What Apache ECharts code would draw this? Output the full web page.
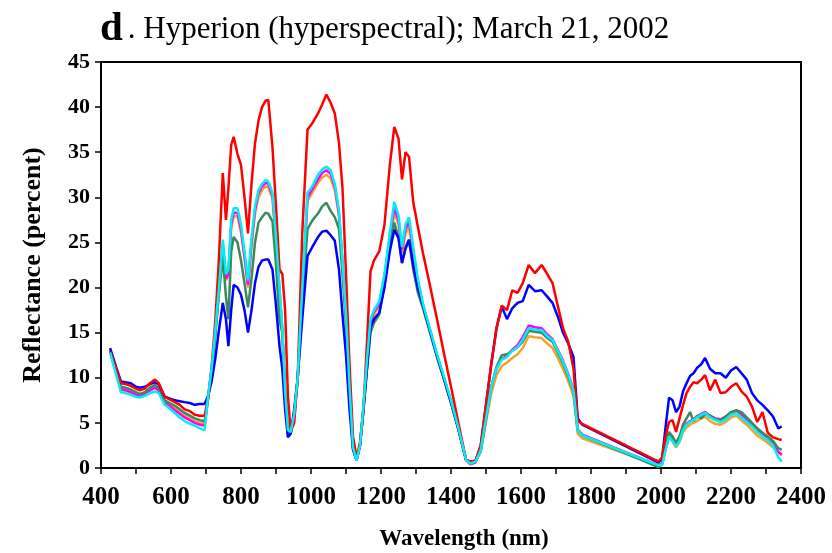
<!DOCTYPE html>
<html><head><meta charset="utf-8">
<script src="https://cdn.jsdelivr.net/npm/echarts@6/dist/echarts.min.js"></script>
<style>html,body{margin:0;padding:0;background:#fff}#c{width:832px;height:553px}</style>
</head><body><div id="c"></div>
<script>
const wavelengths = [
 426,443,457,470,485,500,511,525,540,554,565,582,596,611,625,639,654,668,682,696,
 706,716,726,736,748,757,764,772,779,790,800,810,820,830,840,850,860,870,878,890,900,910,918,926,934,942,952,962,975,990,
 1005,1020,1032,1044,1056,1068,1080,1090,1100,1110,1120,1130,
 1140,1150,1160,1170,1180,1195,1210,1225,1238,1250,1260,1270,1280,1292,1305,
 1320,1340,1360,1380,1400,1420,1443,
 1455,1470,1485,1500,1515,1530,1545,1560,1575,1590,1605,1622,1640,1659,1675,1690,1705,1720,1735,1750,1762,1775,
 1993,2003,2013,2023,2033,2043,2053,2063,2073,2083,2093,2103,2115,2126,2140,2155,2170,2185,2200,2215,2230,2245,2260,2275,2290,2305,2320,2335,2345
];
const red = [
 12.9,11.0,9.4,9.3,9.1,8.8,8.6,8.8,9.4,9.8,9.4,7.9,7.6,7.3,7.0,6.5,6.3,5.9,5.8,5.8,
 7.8,11.2,16.0,22.5,32.7,27.5,31.0,35.8,36.7,34.8,33.6,30.0,26.0,31.5,36.0,38.5,40.0,40.7,40.8,35.5,29.0,22.0,21.5,17.5,8.0,4.0,5.0,10.0,26.0,37.5,
 38.3,39.3,40.3,41.4,40.5,39.3,36.0,31.0,21.5,11.5,3.5,1.2,
 2.8,6.5,14.0,21.8,23.0,24.0,27.0,33.5,37.8,36.5,32.0,35.0,34.5,29.5,26.8,
 23.8,20.2,16.5,12.7,9.0,5.2,0.9,
 0.7,0.8,2.5,7.0,11.5,15.5,18.0,17.5,19.7,19.4,20.5,22.5,21.6,22.5,21.5,20.5,18.0,15.5,14.0,11.0,5.2,4.9,
 0.7,1.2,3.5,5.1,5.3,4.0,5.5,7.0,8.3,9.0,9.5,9.4,9.8,10.3,8.6,9.8,8.3,8.4,9.0,9.4,8.5,7.9,6.8,5.1,6.2,3.9,3.4,3.2,3.1
];
const blue = [
 13.3,11.2,9.6,9.5,9.4,9.0,8.9,9.0,9.3,9.5,9.3,7.9,7.7,7.5,7.4,7.3,7.2,7.0,7.1,7.1,
 8.0,9.6,12.0,15.0,18.3,16.5,13.5,17.5,20.3,20.0,19.2,17.5,15.0,17.5,20.5,22.3,23.0,23.1,23.1,22.0,18.0,13.5,11.0,6.5,3.4,3.8,6.5,10.0,16.5,23.5,
 24.6,25.6,26.2,26.3,25.8,25.2,22.0,17.0,12.5,6.5,2.0,0.9,
 2.5,6.5,11.0,15.6,16.5,17.2,20.0,24.0,26.4,25.5,22.7,24.3,25.3,22.5,20.0,
 18.0,15.2,12.4,9.9,7.3,4.5,0.9,
 0.7,0.8,2.5,7.0,11.5,15.5,17.9,16.5,17.7,18.3,18.5,20.3,19.6,19.7,19.0,18.3,16.8,15.0,13.8,12.3,5.5,4.8,
 0.6,1.0,4.5,7.8,7.5,6.2,6.8,8.5,9.4,10.2,10.5,11.1,11.5,12.2,11.0,10.5,10.5,10.0,10.8,11.2,10.5,9.8,8.3,7.5,7.0,6.4,5.7,4.4,4.6
];
const green = [
 13.0,10.8,9.0,8.9,8.7,8.4,8.2,8.4,8.9,9.2,8.9,7.5,7.2,6.9,6.5,6.1,5.8,5.5,5.3,5.2,
 7.8,10.5,14.5,19.0,23.4,19.0,16.5,24.0,25.6,25.0,23.0,20.5,17.8,21.0,25.0,27.2,27.8,28.3,28.2,27.3,22.5,16.4,15.0,8.5,4.0,3.9,6.0,10.0,18.5,26.5,
 27.5,28.2,29.0,29.4,28.5,27.8,26.5,21.5,16.0,8.5,2.2,0.8,
 2.5,6.5,11.0,15.0,16.1,17.0,20.5,24.5,27.2,25.5,22.8,24.5,25.3,22.0,19.5,
 17.7,15.0,12.3,9.8,7.2,4.4,0.9,
 0.5,0.7,2.0,5.5,9.0,11.2,12.5,12.6,13.0,13.4,14.0,15.2,15.1,15.0,14.4,14.0,12.8,11.6,10.1,8.5,4.2,3.6,
 0.1,0.5,2.5,4.0,3.5,2.8,3.5,4.8,5.5,6.2,5.2,5.8,5.5,6.0,5.8,5.4,5.3,5.7,6.2,6.4,6.2,5.6,5.0,4.4,3.9,3.5,3.0,2.2,2.0
];
const magenta = [
 12.9,10.6,8.7,8.6,8.4,8.1,8.0,8.2,8.6,8.9,8.6,7.2,6.9,6.4,6.0,5.6,5.3,5.0,4.8,4.7,
 7.7,10.8,14.8,19.2,24.8,21.0,21.5,27.0,28.3,28.3,26.5,23.5,20.3,25.0,28.6,30.5,31.2,31.6,31.5,30.2,25.2,19.8,15.3,8.4,4.1,3.9,5.9,9.9,19.8,30.0,
 31.0,32.0,32.7,33.0,32.6,31.2,28.2,22.8,16.8,8.9,2.3,0.8,
 2.5,6.9,11.8,16.3,17.3,18.2,21.2,25.5,28.8,27.5,24.2,26.5,27.3,24.0,20.6,
 18.0,15.3,12.5,10.0,7.4,4.5,0.9,
 0.4,0.6,2.0,5.5,9.0,11.0,12.1,12.4,13.1,13.6,14.5,15.8,15.6,15.5,14.8,14.3,13.1,11.9,10.4,8.7,4.3,3.7,
 0.3,0.4,2.1,3.6,3.1,2.5,3.1,4.3,4.9,5.2,5.4,5.7,6.0,6.2,5.8,5.5,5.4,5.7,6.1,6.3,5.9,5.3,4.8,4.2,3.7,3.2,2.7,1.8,1.5
];
const orange = [
 13.0,10.7,8.8,8.7,8.5,8.2,8.1,8.3,8.7,9.0,8.7,7.3,7.0,6.6,6.2,5.8,5.5,5.2,5.0,4.9,
 7.7,10.7,14.6,19.0,24.5,20.8,21.2,26.6,27.9,27.9,26.1,23.2,20.0,24.6,28.2,30.0,30.8,31.2,31.1,29.8,24.8,19.5,15.0,8.3,4.0,3.9,5.8,9.8,19.5,29.6,
 30.6,31.6,32.2,32.5,32.1,30.8,27.9,22.5,16.6,8.8,2.3,0.9,
 2.5,6.8,11.6,16.0,17.0,18.0,21.0,25.0,28.3,27.0,23.8,26.0,26.8,23.6,20.3,
 17.9,15.2,12.4,9.9,7.3,4.5,0.9,
 0.5,0.7,1.8,5.0,8.3,10.3,11.3,11.7,12.2,12.6,13.3,14.6,14.5,14.4,13.8,13.3,12.2,11.0,9.6,8.0,3.8,3.3,
 0.3,0.4,2.0,3.4,2.9,2.3,2.9,4.0,4.5,4.8,5.0,5.2,5.5,5.7,5.2,4.9,4.8,5.1,5.6,5.8,5.3,4.8,4.2,3.6,3.2,2.8,2.3,1.7,1.4
];
const cyan = [
 12.8,10.4,8.4,8.3,8.1,7.9,7.8,8.0,8.3,8.5,8.3,7.0,6.6,6.1,5.6,5.2,4.9,4.7,4.4,4.2,
 8.0,11.0,15.0,19.5,25.3,21.5,22.0,27.5,28.8,28.8,27.0,24.0,20.8,25.5,29.0,30.8,31.5,31.9,31.8,30.5,25.5,20.0,15.5,8.5,4.2,4.0,6.0,10.0,20.0,30.5,
 31.3,32.5,33.1,33.4,33.0,31.5,28.5,23.0,17.0,9.0,2.3,0.8,
 2.5,7.0,12.0,16.5,17.5,18.5,21.5,26.0,29.5,28.0,24.5,27.0,27.8,24.5,21.0,
 18.2,15.4,12.6,10.1,7.5,4.6,0.9,
 0.5,0.7,2.0,5.5,9.0,11.0,12.0,12.3,13.0,13.4,14.2,15.5,15.3,15.3,14.6,14.2,13.0,11.8,10.3,8.6,4.2,3.6,
 0.3,0.3,2.0,3.5,3.0,2.4,3.0,4.2,4.8,5.1,5.3,5.6,5.9,6.1,5.6,5.3,5.1,5.4,5.9,6.1,5.6,5.1,4.6,4.0,3.5,3.1,2.5,1.2,0.7
];
const titleLetter = 'd';
const titleText = '. Hyperion (hyperspectral); March 21, 2002';
const xName = 'Wavelength (nm)';
const yName = 'Reflectance (percent)';

const serif = '"Liberation Serif","Times New Roman",serif';
const seriesDefs = [
  {name:'orange', data:orange, color:'#f7a030'},
  {name:'magenta', data:magenta, color:'#ff00ff'},
  {name:'green', data:green, color:'#3a8a5a'},
  {name:'blue', data:blue, color:'#0000ff'},
  {name:'red', data:red, color:'#ff0000'},
  {name:'cyan', data:cyan, color:'#00f0f0'}
];
seriesDefs.forEach(s => { if (s.data.length !== wavelengths.length) console.error(s.name, s.data.length, wavelengths.length); });

const chart = echarts.init(document.getElementById('c'), null, {renderer:'canvas'});
chart.setOption({
  animation:false,
  backgroundColor:'#fff',
  title:{
    left:95, top:4,
    text:'{a|' + titleLetter + '}{b|' + titleText + '}',
    textStyle:{ rich:{
      a:{fontFamily:serif, fontWeight:'bold', fontSize:41, color:'#000', padding:[0,5,0,0]},
      b:{fontFamily:serif, fontWeight:'normal', fontSize:31, color:'#000'}
    }}
  },
  grid:{left:101, right:31, top:62, bottom:85, show:true, borderColor:'#000', borderWidth:2,
    backgroundColor:'transparent', containLabel:false, outerBoundsMode:'none'},
  xAxis:{
    type:'value', min:400, max:2400, interval:100,
    name:xName, nameLocation:'middle', nameGap:60,
    nameTextStyle:{fontFamily:serif, fontWeight:'bold', fontSize:23, color:'#000', padding:[0,0,0,26]},
    axisLine:{show:true, onZero:false, lineStyle:{color:'#000', width:2}},
    axisTick:{show:true, length:6, lineStyle:{color:'#000', width:1.5}},
    axisLabel:{fontFamily:serif, fontWeight:'bold', fontSize:25, color:'#000', margin:17,
      formatter:v => (v % 200 === 0 ? String(v) : '')},
    splitLine:{show:false}
  },
  yAxis:{
    type:'value', min:0, max:45, interval:5,
    name:yName, nameLocation:'middle', nameGap:55,
    nameTextStyle:{fontFamily:serif, fontWeight:'bold', fontSize:26, color:'#000'},
    axisLine:{show:true, lineStyle:{color:'#000', width:2}},
    axisTick:{show:true, length:6, lineStyle:{color:'#000', width:1.5}},
    axisLabel:{fontFamily:serif, fontWeight:'bold', fontSize:22, color:'#000', margin:11},
    splitLine:{show:false}
  },
  series: seriesDefs.map(s => ({
    name:s.name, type:'line', showSymbol:false, symbol:'none', smooth:false,
    lineStyle:{color:s.color, width:2.5},
    data: wavelengths.map((w,i) => [w, s.data[i]])
  }))
});
</script>
</body></html>
